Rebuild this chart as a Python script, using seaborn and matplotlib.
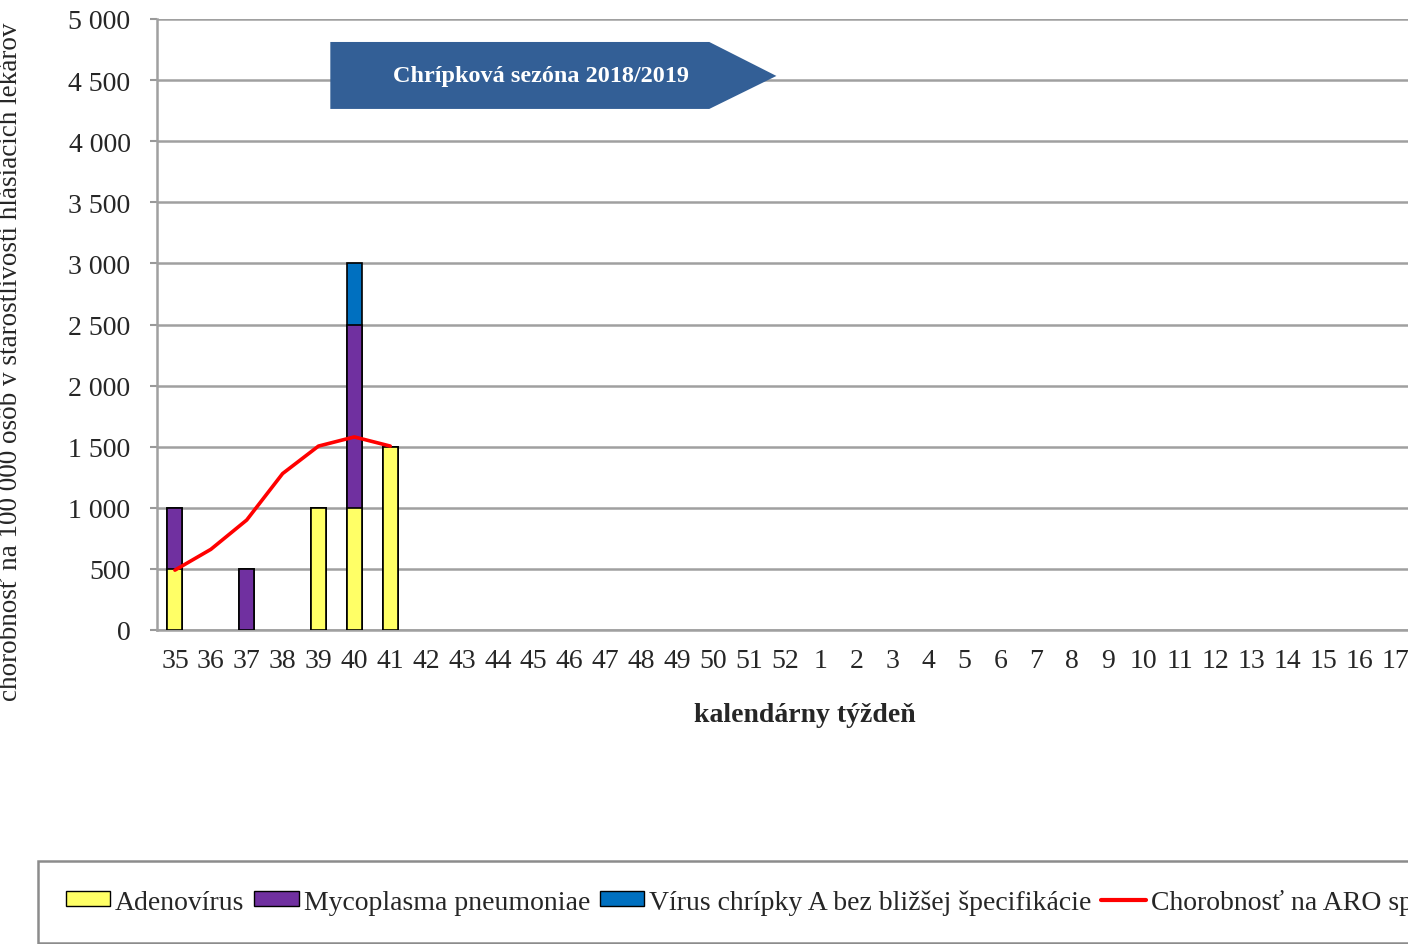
import numpy as np
import pandas as pd
import matplotlib
matplotlib.use("Agg")
import matplotlib.pyplot as plt
from matplotlib.patches import Polygon, Patch
from matplotlib.lines import Line2D
import seaborn as sns

# calendar weeks of the 2018/2019 season (chart is cut off on the right)
weeks = [str(w) for w in list(range(35, 53)) + list(range(1, 18))]

# weekly positive findings (only weeks that have any)
bar_weeks = ["35", "37", "39", "40", "41"]
adenovirus = [500, 0, 1000, 1000, 1500]
mycoplasma = [500, 500, 0, 1500, 0]
influenza_a = [0, 0, 0, 500, 0]

# ARO morbidity per 100 000
line_weeks = ["35", "36", "37", "38", "39", "40", "41"]
aro_rate = [490, 660, 900, 1280, 1505, 1580, 1505]

season_start = 39.33  # index-based position, between week 39 and 40
season_label = "Chrípková sezóna 2018/2019"

series_names = ["Adenovírus", "Mycoplasma pneumoniae",
                "Vírus chrípky A bez bližšej špecifikácie",
                "Chorobnosť na ARO spolu"]
colors = ["#FFFF66", "#7030A0", "#0070C0", "#FF0000"]

sns.set_theme(style="white")
plt.rcParams["font.family"] = ["Liberation Serif", "DejaVu Serif"]

fig = plt.figure(figsize=(14.08, 9.45), dpi=100)
ax = fig.add_axes([157 / 1408, 1 - 631 / 945, 1256 / 1408, 611 / 945])

df = pd.DataFrame({"week": bar_weeks, "a": adenovirus, "m": mycoplasma, "f": influenza_a})
df["am"] = df["a"] + df["m"]
df["amf"] = df["am"] + df["f"]

# stacked bars drawn as overlapping cumulative layers
for col, c in [("amf", colors[2]), ("am", colors[1]), ("a", colors[0])]:
    sub = df[df[col] > 0]
    sns.barplot(data=sub, x="week", y=col, order=weeks, color=c, width=0.42,
                edgecolor="black", linewidth=1.2, saturation=1, ax=ax, zorder=3)

pos = [weeks.index(w) for w in line_weeks]
sns.lineplot(x=pos, y=aro_rate, color=colors[3], linewidth=2.6, ax=ax, zorder=4)

ax.set_xlim(-0.5, len(weeks) - 0.5)
ax.set_ylim(0, 5000)
ax.set_yticks(np.arange(0, 5001, 500))
ax.set_yticklabels([f"{v:,}".replace(",", " ") for v in range(0, 5001, 500)], fontsize=20)
ax.set_xticks(range(len(weeks)))
ax.set_xticklabels(weeks, fontsize=20)
ax.set_xticks(np.arange(len(weeks) + 1) - 0.5, minor=True)
ax.tick_params(axis="x", which="major", length=0, pad=13)
ax.tick_params(axis="x", which="minor", length=5, width=1.5, color="#999999", direction="out")
ax.tick_params(axis="y", length=5, width=1.5, color="#999999", direction="out", left=True, pad=14)
ax.yaxis.grid(True, color="#A0A0A0", linewidth=1.8, zorder=0)
ax.set_axisbelow(True)
for s in ["top", "right"]:
    ax.spines[s].set_visible(False)
ax.spines["left"].set_color("#A0A0A0")
ax.spines["left"].set_linewidth(1.8)
ax.spines["bottom"].set_color("#A0A0A0")
ax.spines["bottom"].set_linewidth(1.8)

ax.set_xlabel("kalendárny týždeň", fontsize=20, fontweight="bold")
ax.xaxis.set_label_coords(0.516, -0.118)
ax.set_ylabel("chorobnosť na 100 000 osôb v starostlivosti hlásiacich lekárov", fontsize=19.5)
ax.yaxis.set_label_coords(-0.107, 0.44)

# season start marker and banner arrow
ax.axvline(season_start, color="#8DB4E2", linewidth=1.5, zorder=2)
banner = Polygon([[4.33, 4812], [14.89, 4812], [16.76, 4534], [14.89, 4264], [4.33, 4264]],
                 closed=True, facecolor="#335F96", edgecolor="none", zorder=5)
ax.add_patch(banner)
ax.text(10.2, 4534, season_label, color="white", fontsize=17.5, fontweight="bold",
        ha="center", va="center", zorder=6)

handles = [Patch(facecolor=colors[0], edgecolor="black"),
           Patch(facecolor=colors[1], edgecolor="black"),
           Patch(facecolor=colors[2], edgecolor="black"),
           Line2D([], [], color=colors[3], linewidth=3)]
leg = fig.legend(handles, series_names, loc="upper left", bbox_to_anchor=(38 / 1408, 1 - 862 / 945),
                 ncol=4, fontsize=20, frameon=True, fancybox=False, edgecolor="#707070",
                 handlelength=1.6, handleheight=0.45, handletextpad=0.18, columnspacing=0.35,
                 borderpad=1.0, borderaxespad=0)
leg.get_frame().set_linewidth(1.8)

fig.savefig("out.png", dpi=100)
